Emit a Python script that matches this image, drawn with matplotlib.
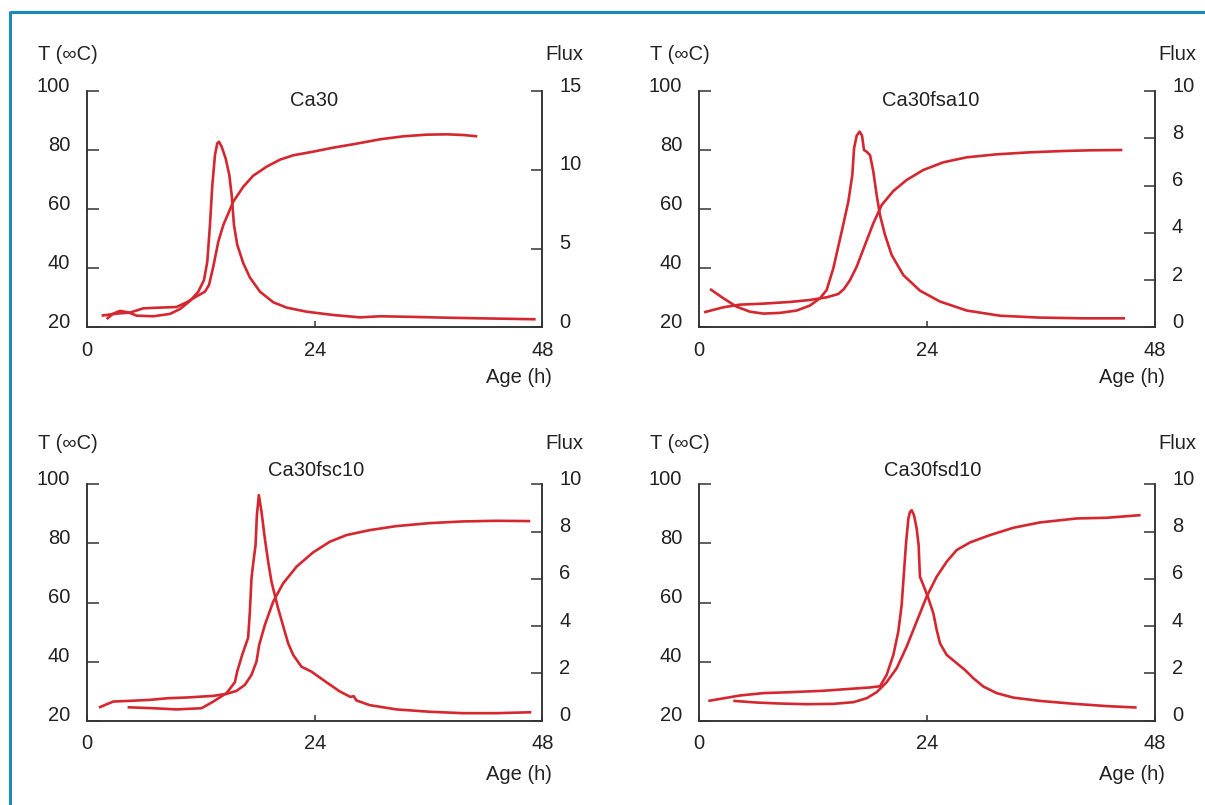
import matplotlib
matplotlib.use("Agg")
import matplotlib.pyplot as plt
from matplotlib.lines import Line2D

plt.rcParams['font.family'] = ['Liberation Sans', 'DejaVu Sans']

# ---- data: temperature (left axis) and heat flux (right axis) vs age ----
titles = ["Ca30", "Ca30fsa10", "Ca30fsc10", "Ca30fsd10"]
flux_max = [15, 10, 10, 10]
flux_ticks = [[0, 5, 10, 15], [0, 2, 4, 6, 8, 10], [0, 2, 4, 6, 8, 10], [0, 2, 4, 6, 8, 10]]
temp_ticks = [20, 40, 60, 80, 100]
age_ticks = [0, 24, 48]

ca30_t_age = [1.51, 3.09, 4.50, 5.91, 7.67, 9.42, 10.48, 11.36, 12.41, 12.84, 13.29, 13.82,
              14.35, 15.40, 16.46, 17.51, 18.92, 20.33, 21.73, 23.84, 25.95, 28.41, 30.87,
              33.34, 35.80, 37.91, 39.67, 41.14]
ca30_t = [23.95, 24.63, 24.97, 26.43, 26.66, 26.88, 28.46, 30.16, 32.07, 34.33, 40.54, 49.0,
          54.64, 62.54, 67.62, 71.34, 74.39, 76.76, 78.23, 79.47, 80.82, 82.17, 83.64,
          84.66, 85.22, 85.33, 85.1, 84.66]
ca30_f_age = [2.04, 2.74, 3.45, 4.33, 5.20, 6.96, 8.72, 9.78, 10.83, 11.71, 12.31, 12.66,
              12.94, 13.19, 13.47, 13.71, 13.89, 14.17, 14.59, 14.98, 15.23, 15.47, 15.82,
              16.46, 17.16, 18.22, 19.62, 21.03, 23.14, 25.95, 28.77, 30.87, 34.39, 37.91,
              41.42, 47.30]
ca30_f = [0.53, 0.87, 1.04, 0.95, 0.74, 0.70, 0.85, 1.16, 1.67, 2.26, 3.0, 4.17,
          6.5, 9.03, 10.94, 11.68, 11.78, 11.47, 10.73, 9.67, 8.40, 6.50, 5.23,
          4.06, 3.15, 2.26, 1.59, 1.25, 0.99, 0.78, 0.63, 0.70, 0.66, 0.61,
          0.57, 0.51]

fsa_t_age = [0.53, 2.56, 4.32, 6.77, 9.58, 11.68, 13.44, 14.67, 15.26, 15.9, 16.6, 17.47,
             18.35, 19.23, 20.46, 21.86, 23.61, 25.72, 28.18, 31.33, 34.84, 38.35, 41.16, 44.56]
fsa_t = [25.08, 26.77, 27.67, 28.01, 28.58, 29.25, 30.16, 31.28, 32.98, 36.0, 40.54, 47.87,
         55.21, 61.41, 66.15, 69.88, 73.26, 75.86, 77.55, 78.56, 79.24, 79.69, 79.92, 80.03]
fsa_f_age = [1.16, 2.56, 3.97, 5.37, 6.77, 8.53, 10.28, 11.68, 12.74, 13.44, 14.14, 15.02,
             15.72, 16.14, 16.32, 16.6, 16.91, 17.16, 17.37, 17.65, 18.0, 18.35, 18.7,
             19.05, 19.58, 20.28, 21.51, 23.26, 25.37, 28.18, 31.68, 35.89, 40.46, 44.84]
fsa_f = [1.62, 1.23, 0.87, 0.66, 0.58, 0.61, 0.71, 0.92, 1.23, 1.58, 2.50, 4.05,
         5.32, 6.45, 7.57, 8.11, 8.28, 8.11, 7.50, 7.43, 7.29, 6.59, 5.60,
         4.75, 3.91, 3.06, 2.21, 1.55, 1.09, 0.71, 0.49, 0.41, 0.38, 0.38]

fsc_t_age = [1.23, 2.74, 4.50, 6.61, 8.54, 10.47, 13.28, 14.69, 15.74, 16.62, 17.32, 17.85,
             18.13, 18.73, 19.61, 20.66, 22.07, 23.82, 25.58, 27.34, 29.80, 32.61, 36.12,
             39.64, 43.15, 46.73]
fsc_t = [24.40, 26.43, 26.66, 27.0, 27.56, 27.79, 28.35, 29.03, 30.04, 32.07, 35.46, 39.97,
         45.61, 52.38, 60.28, 66.49, 72.13, 76.98, 80.59, 82.85, 84.54, 85.9, 86.91,
         87.48, 87.7, 87.59]
fsc_f_age = [4.25, 6.96, 9.42, 12.05, 13.28, 14.69, 15.57, 15.81, 16.34, 16.97, 17.15, 17.32,
             17.5, 17.75, 17.89, 18.10, 18.38, 18.73, 19.08, 19.43, 20.13, 20.73, 21.19,
             21.72, 22.59, 23.65, 25.23, 26.64, 27.76, 28.11, 28.39, 29.80, 32.61, 36.12,
             39.64, 43.15, 46.84]
fsc_f = [0.56, 0.52, 0.47, 0.52, 0.80, 1.16, 1.62, 2.07, 2.78, 3.51, 4.61, 6.02,
         6.66, 7.43, 8.70, 9.55, 8.84, 7.71, 6.73, 5.88, 4.75, 3.91, 3.27,
         2.78, 2.28, 2.07, 1.62, 1.23, 1.0, 1.03, 0.85, 0.65, 0.47, 0.37,
         0.31, 0.31, 0.35]

fsd_t_age = [3.61, 6.07, 8.53, 11.33, 14.14, 16.25, 17.65, 18.7, 19.75, 20.81, 21.86, 22.91,
             23.96, 25.02, 26.07, 27.12, 28.53, 30.63, 33.09, 35.89, 39.75, 42.91, 46.49]
fsd_t = [26.66, 26.09, 25.75, 25.53, 25.64, 26.21, 27.56, 29.59, 32.98, 37.72, 45.05, 53.51,
         61.98, 68.75, 73.82, 77.77, 80.37, 82.85, 85.33, 87.14, 88.49, 88.72, 89.62]
fsd_f_age = [0.98, 4.32, 6.77, 9.58, 13.09, 15.89, 18.0, 19.05, 19.75, 20.46, 20.98, 21.33,
             21.58, 21.79, 22.04, 22.21, 22.39, 22.63, 22.91, 23.12, 23.19, 23.26, 23.61,
             24.14, 24.67, 25.02, 25.37, 26.07, 27.12, 28.0, 28.88, 29.93, 31.33, 33.09,
             35.89, 39.40, 42.91, 46.07]
fsd_f = [0.83, 1.06, 1.16, 1.20, 1.26, 1.34, 1.40, 1.45, 1.93, 2.78, 3.77, 4.89,
         6.30, 7.50, 8.56, 8.84, 8.91, 8.70, 8.14, 7.43, 6.73, 6.09, 5.74,
         5.18, 4.54, 3.84, 3.27, 2.78, 2.43, 2.14, 1.79, 1.44, 1.16, 0.97,
         0.83, 0.71, 0.61, 0.55]

temp_series = [(ca30_t_age, ca30_t), (fsa_t_age, fsa_t), (fsc_t_age, fsc_t), (fsd_t_age, fsd_t)]
flux_series = [(ca30_f_age, ca30_f), (fsa_f_age, fsa_f), (fsc_f_age, fsc_f), (fsd_f_age, fsd_f)]

# ---- styling ----
W, H = 1205, 805
RED = '#d4272f'
AXC = '#333333'
TXT = '#222222'
FRAME = '#1a8bb8'
FS = 14.5

fig = plt.figure(figsize=(W / 100, H / 100), dpi=100)

# panel boxes in pixels: left, top, width, height
boxes = [(87.3, 91.0, 455.0, 236.3), (699.0, 91.0, 456.0, 236.3),
         (87.3, 484.5, 455.0, 236.0), (699.0, 484.5, 456.0, 236.0)]
title_dy = [-9, -9, 14, 14]          # title centre relative to top spine (px)
title_dx = [-1, 4, 1.5, 6]
unit_dy = [36, 36, 41.5, 41.5]       # "T" / "Flux" labels above top spine
age_dy = [50, 50, 53.5, 53.5]        # "Age (h)" below bottom spine
ticklab_dy = [22.7, 22.7, 22.7, 22.7]


def off(ax, xy, coords, dx, dy, s, **kw):
    ax.annotate(s, xy=xy, xycoords=coords, xytext=(dx, dy), textcoords='offset pixels',
                fontsize=FS, color=TXT, annotation_clip=False, **kw)


for i in range(4):
    l, t, w, h = boxes[i]
    ax = fig.add_axes([l / W, 1 - (t + h) / H, w / W, h / H])
    ax2 = ax.twinx()
    ax.set_xlim(0, 48)
    ax.set_ylim(20, 100)
    ax2.set_ylim(0, flux_max[i])

    for a in (ax, ax2):
        a.spines['top'].set_visible(False)
        for s in ('left', 'right', 'bottom'):
            a.spines[s].set_color(AXC)
            a.spines[s].set_linewidth(1.1)
        a.patch.set_visible(False)

    ax.set_yticks(temp_ticks)
    ax.set_xticks(age_ticks)
    ax2.set_yticks(flux_ticks[i])
    ax.tick_params(axis='y', direction='in', length=8.6, width=1.1, color=AXC,
                   labelleft=False, right=False)
    ax.tick_params(axis='x', direction='in', length=4.3, width=1.1, color=AXC,
                   labelbottom=False, top=False)
    ax2.tick_params(axis='y', direction='in', length=8.0, width=1.1, color=AXC,
                    labelright=False, left=False)

    # curves
    ta, tv = temp_series[i]
    fa, fv = flux_series[i]
    ax.plot(ta, tv, color=RED, lw=1.9, solid_joinstyle='round', solid_capstyle='butt')
    ax2.plot(fa, fv, color=RED, lw=1.9, solid_joinstyle='round', solid_capstyle='butt')

    # tick labels
    for v in temp_ticks:
        off(ax, (0, v), ('axes fraction', 'data'), -17, 5, str(v), ha='right', va='center')
    for v in flux_ticks[i]:
        off(ax2, (1, v), ('axes fraction', 'data'), 17, 5, str(v), ha='left', va='center')
    for v in age_ticks:
        off(ax, (v, 0), ('data', 'axes fraction'), 0, -ticklab_dy[i], str(v),
            ha='center', va='center')

    # axis names and panel title
    off(ax, (0, 1), 'axes fraction', -49, unit_dy[i], 'T (∞C)', ha='left', va='center')
    off(ax, (1, 1), 'axes fraction', 41, unit_dy[i], 'Flux', ha='right', va='center')
    off(ax, (1, 0), 'axes fraction', 10, -age_dy[i], 'Age (h)', ha='right', va='center')
    off(ax, (0.5, 1), 'axes fraction', title_dx[i], title_dy[i], titles[i],
        ha='center', va='center')

# outer frame: top and left rules
fig.add_artist(Line2D([9.5 / W, 1.0], [1 - 12.3 / H, 1 - 12.3 / H], color=FRAME, lw=2.2,
                      transform=fig.transFigure, solid_capstyle='butt'))
fig.add_artist(Line2D([9.5 / W, 9.5 / W], [0.0, 1 - 11.2 / H], color=FRAME, lw=2.2,
                      transform=fig.transFigure, solid_capstyle='butt'))

fig.savefig('out.png', dpi=100)
